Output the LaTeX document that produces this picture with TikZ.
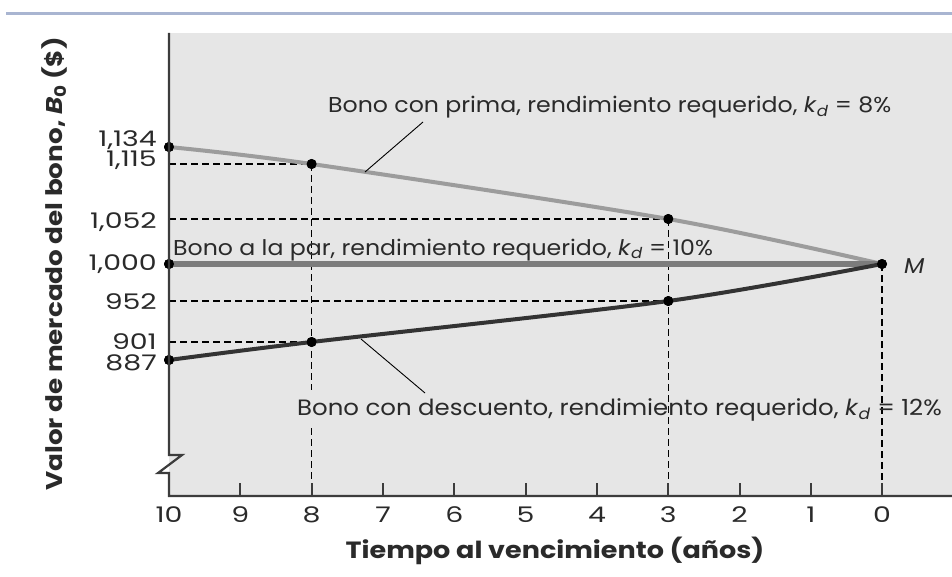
\documentclass[tikz,border=0pt]{standalone}
\usepackage{fontspec}
\setmainfont{Poppins}[FakeStretch=1.1]
\newfontfamily\ttlfont{Poppins}[FakeStretch=1.15]
\newfontfamily\numfont{Poppins}[FakeStretch=1.32]
\definecolor{txt}{HTML}{2A2A2A}
\definecolor{bgfill}{HTML}{E6E6E6}
\definecolor{rule}{HTML}{A9B5D1}
\definecolor{prem}{HTML}{9C9C9C}
\definecolor{par}{HTML}{7C7C7C}
\definecolor{disc}{HTML}{333333}
\definecolor{axis}{HTML}{3C3C3C}
\begin{document}
\begin{tikzpicture}[x=1pt,y=-1pt,
  dot/.style={circle,fill=black,inner sep=0pt,minimum size=10pt},
  guide/.style={black,line width=1.4pt,dash pattern=on 7pt off 4pt},
  lbl/.style={font=\fontsize{21.5}{24}\selectfont,text=txt,inner sep=0pt},
  num/.style={font=\numfont\fontsize{21.5}{24}\selectfont,text=txt,inner sep=0pt},
  ylab/.style={num,anchor=base east},
  xlab/.style={num,anchor=base},
  ttl/.style={font=\ttlfont\fontsize{23.5}{27}\selectfont\bfseries,text=txt,inner sep=0pt},
  leader/.style={black,line width=0.9pt},
  tickmark/.style={axis,line width=1.8pt}]
\useasboundingbox (0,0) rectangle (952,577);
% top rule
\draw[rule,line width=3pt] (6,13.5) -- (952,13.5);
% plot background
\fill[bgfill] (169,33) rectangle (952,496);
% named points
\coordinate (a1115) at (169,164);
\coordinate (a1052) at (169,219);
\coordinate (a952) at (169,301);
\coordinate (a901) at (169,342);
\coordinate (f8) at (311.6,496);
\coordinate (f3) at (668.3,496);
\coordinate (f0) at (882,496);
\node[dot] (P10) at (169,147) {};
\node[dot] (P8) at (311.6,164) {};
\node[dot] (P3) at (668.3,219) {};
\node[dot] (M) at (882,264) {};
\node[dot] (A10) at (169,264) {};
\node[dot] (D10) at (169,360) {};
\node[dot] (D8) at (311.6,342) {};
\node[dot] (D3) at (668.3,301) {};
% guides
\draw[guide] (a1115) -- (P8.center);
\draw[guide] (a1052) -- (P3.center);
\draw[guide] (a952) -- (D3.center);
\draw[guide] (a901) -- (D8.center);
\draw[guide] (P8.center) -- (f8);
\draw[guide] (P3.center) -- (f3);
\draw[guide] (M.center) -- (f0);
\fill[bgfill] (305,390) rectangle (318,424);
% curves
\draw[prem,line width=4pt] plot[smooth,tension=0.5] coordinates {(P10.center) (P8.center) (P3.center) (M.center)};
\draw[par,line width=5.5pt] (A10.center) -- (M.center);
\draw[disc,line width=4pt] plot[smooth,tension=0.5] coordinates {(D10.center) (D8.center) (D3.center) (M.center)};
% dots again on top
\foreach \n in {P10,P8,P3,M,A10,D10,D8,D3} \fill[black] (\n) circle (5pt);
% axes
\draw[axis,line width=2.2pt] (169,33) -- (169,455) -- (182,455) -- (158,473) -- (169,473) -- (169,496) -- (952,496);
\foreach \x in {240.3,383,454.3,525.6,597,739.6,811}
  \draw[tickmark] (\x,496) -- (\x,483);
\foreach \x in {311.6,668.3,882}
  \draw[tickmark] (\x,496) -- (\x,483);
% y tick labels
\node[ylab] (y1134) at (157,147) {1,134};
\node[ylab] (y1115) at (157,167) {1,115};
\node[ylab] (y1052) at (157,229) {1,052};
\node[ylab] (y1000) at (157,270) {1,000};
\node[ylab] (y952) at (157,309) {952};
\node[ylab] (y901) at (157,349) {901};
\node[ylab] (y887) at (157,370) {887};
% x tick labels
\node[xlab] (x10) at (169,522) {10};
\node[xlab] (x9) at (240.3,522) {9};
\node[xlab] (x8) at (311.6,522) {8};
\node[xlab] (x7) at (383,522) {7};
\node[xlab] (x6) at (454.3,522) {6};
\node[xlab] (x5) at (525.6,522) {5};
\node[xlab] (x4) at (597,522) {4};
\node[xlab] (x3) at (668.3,522) {3};
\node[xlab] (x2) at (739.6,522) {2};
\node[xlab] (x1) at (811,522) {1};
\node[xlab] (x0) at (882,522) {0};
% titles
\node[ttl,anchor=base] (xt) at (555,558) {Tiempo al vencimiento (años)};
\node[ttl,font=\ttlfont\fontsize{22.8}{26}\selectfont\bfseries,rotate=90] (yt) at (54,264) {Valor de mercado del bono, \textit{B}\textsubscript{0} (\$)};
% labels
\node[lbl,anchor=base west] (Lprem) at (328,113) {Bono con prima, rendimiento requerido, \textit{k}\textsubscript{\textit{d}} = 8\%};
\node[lbl,anchor=base west] (Lpar) at (173,255) {Bono a la par, rendimiento requerido, \textit{k}\textsubscript{\textit{d}} = 10\%};
\node[lbl,font=\fontsize{22.2}{24}\selectfont,anchor=base west] (Ldisc) at (297,415) {Bono con descuento, rendimiento requerido, \textit{k}\textsubscript{\textit{d}} = 12\%};
\node[lbl,anchor=base west] (Mlab) at (904,273) {\textit{M}};
% leaders
\coordinate (lp1) at (423,122);
\coordinate (lp2) at (365,172);
\coordinate (ld1) at (361,339);
\coordinate (ld2) at (425,393);
\draw[leader] (lp1) -- (lp2);
\draw[leader] (ld1) -- (ld2);
\end{tikzpicture}
\end{document}
